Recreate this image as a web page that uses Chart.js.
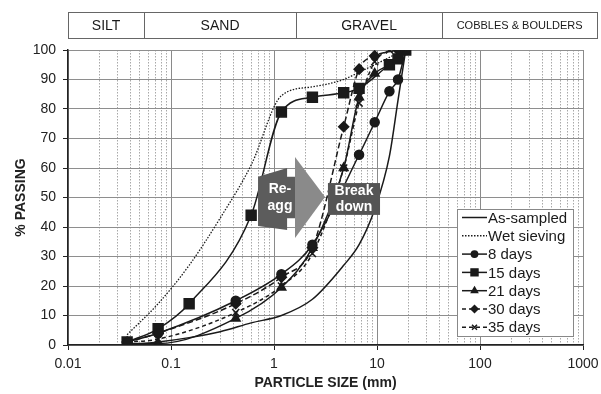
<!DOCTYPE html>
<html>
<head>
<meta charset="utf-8">
<script src="https://cdn.jsdelivr.net/npm/chart.js@4.4.0/dist/chart.umd.min.js"></script>
<style>
  html, body { margin: 0; padding: 0; background: #fff; }
  #wrap { width: 601px; height: 394px; position: relative; }
</style>
</head>
<body>
<div id="wrap"><canvas id="chart"></canvas></div>
<script>
// grading curves, particle size (mm) vs % passing
const asSampled = [[0.0375, 0], [0.075, 1], [0.15, 2.5], [0.3, 4.5], [0.6, 7.5], [1.18, 10], [2.36, 15.5], [4.75, 27], [6.7, 34], [9.5, 46], [13.2, 64], [16, 83], [19, 100]];
const wetSieving = [[0.0375, 3.5], [0.075, 14], [0.15, 27], [0.3, 43], [0.6, 61], [1.18, 84.5], [2.36, 87.5], [4.75, 90], [6.7, 92.5], [9.5, 95], [13.2, 97.5], [16, 99], [19, 100]];
const days8 = [[0.0375, 1], [0.075, 4], [0.425, 15], [1.18, 24], [2.36, 34], [6.7, 64.5], [9.5, 75.5], [13.2, 86], [16, 90], [19, 100]];
const days15 = [[0.0375, 1], [0.075, 5.5], [0.15, 14], [0.6, 44], [1.18, 79], [2.36, 84], [4.75, 85.5], [6.7, 87], [13.2, 95], [16, 97], [19, 100]];
const days21 = [[0.0375, 0.5], [0.075, 0.5], [0.425, 9], [1.18, 19.5], [2.36, 33], [4.75, 60], [6.7, 84], [9.5, 92], [16, 96.5], [19, 100]];
const days30 = [[0.0375, 1], [0.075, 4], [0.425, 14], [1.18, 23], [2.36, 33], [4.75, 74], [6.7, 93.5], [9.5, 98], [16, 100]];
const days35 = [[0.0375, 1], [0.075, 2], [0.425, 11], [1.18, 20], [2.36, 31], [4.75, 60], [6.7, 82], [9.5, 96], [13.2, 100]];

const seriesNames = ['As-sampled', 'Wet sieving', '8 days', '15 days', '21 days', '30 days', '35 days'];
const xTickDecades = [0.01, 0.1, 1, 10, 100, 1000];

// soil class band above the plot (edges in mm, last one runs past the axis)
const bandLabels = ['SILT', 'SAND', 'GRAVEL', 'COBBLES & BOULDERS'];
const bandEdges = [0.01, 0.055, 1.63, 43, 1370];

// annotation arrows, in mm / % passing
const reaggArrow = [[0.7, 57], [1.34, 60], [1.34, 57], [1.8, 57], [1.8, 43], [1.34, 43], [1.34, 39], [0.7, 40.3]];
const breakArrow = [[1.6, 63.7], [3.13, 50.2], [1.6, 36.3]];
const breakBox = [[3.34, 54.9], [10.7, 44.1]];

const FONT = "'Liberation Sans', Arial, sans-serif";
const INK = '#1a1a1a';

function pts(arr) { return arr.map(p => ({ x: p[0], y: p[1] })); }

function series(label, arr, style) {
  return Object.assign({
    label, data: pts(arr),
    borderColor: INK, backgroundColor: INK,
    borderWidth: 1.5, pointRadius: 0, pointHoverRadius: 0,
    tension: 0.4, cubicInterpolationMode: 'monotone', fill: false
  }, style);
}

const datasets = [
  series(seriesNames[0], asSampled, {}),
  series(seriesNames[1], wetSieving, { borderDash: [1.5, 1.5], borderWidth: 1.3 }),
  series(seriesNames[2], days8, { pointStyle: 'circle', pointRadius: 4.5 }),
  series(seriesNames[3], days15, { pointStyle: 'rect', pointRadius: 7 }),
  series(seriesNames[4], days21, { pointStyle: 'triangle', pointRadius: 5 }),
  series(seriesNames[5], days30, { pointStyle: 'rectRot', pointRadius: 5, borderDash: [6, 3] }),
  series(seriesNames[6], days35, { pointStyle: 'crossRot', pointRadius: 5, borderDash: [4, 3] })
];

const isDecade = v => xTickDecades.some(d => Math.abs(d - v) / d < 1e-6);

// top band, arrows and the boxed legend
const extras = {
  id: 'extras',
  afterDatasetsDraw(chart) {
    const { ctx, scales: { x, y } } = chart;
    const poly = (list, color) => {
      ctx.beginPath();
      list.forEach((p, i) => {
        const px = x.getPixelForValue(p[0]), py = y.getPixelForValue(p[1]);
        if (i) ctx.lineTo(px, py); else ctx.moveTo(px, py);
      });
      ctx.closePath();
      ctx.fillStyle = color;
      ctx.fill();
    };
    ctx.save();
    poly(reaggArrow, '#5c5c5c');
    poly(breakArrow, '#8a8a8a');
    const bx1 = x.getPixelForValue(breakBox[0][0]), bx2 = x.getPixelForValue(breakBox[1][0]);
    const by1 = y.getPixelForValue(breakBox[0][1]), by2 = y.getPixelForValue(breakBox[1][1]);
    ctx.fillStyle = '#555';
    ctx.fillRect(bx1, by1, bx2 - bx1, by2 - by1);

    ctx.fillStyle = '#fff';
    ctx.font = 'bold 14px ' + FONT;
    ctx.textAlign = 'center';
    ctx.textBaseline = 'middle';
    const rx = x.getPixelForValue(1.0);
    ctx.fillText('Re-', rx + 6, y.getPixelForValue(53));
    ctx.fillText('agg', rx + 6, y.getPixelForValue(47));
    const bxc = (bx1 + bx2) / 2;
    ctx.fillText('Break', bxc, by1 + 8);
    ctx.fillText('down', bxc, by2 - 8);
    ctx.restore();
  },
  afterDraw(chart) {
    const { ctx, chartArea: area, scales: { x } } = chart;
    ctx.save();
    // soil class band
    const top = 12, h = 26;
    ctx.strokeStyle = '#666';
    ctx.lineWidth = 1;
    ctx.textBaseline = 'middle';
    ctx.textAlign = 'center';
    ctx.fillStyle = INK;
    for (let i = 0; i < bandLabels.length; i++) {
      const l = x.getPixelForValue(bandEdges[i]);
      const r = Math.min(x.getPixelForValue(bandEdges[i + 1]), chart.width - 4);
      ctx.strokeRect(Math.round(l) + 0.5, top + 0.5, Math.round(r - l), h);
      ctx.font = (i === 3 ? '11px ' : '14px ') + FONT;
      ctx.fillText(bandLabels[i], (l + r) / 2, top + h / 2 + 1);
    }

    // legend
    const lw = 116, lh = 127;
    const lx = area.right - 10 - lw, ly = area.bottom - 9 - lh;
    ctx.fillStyle = '#fff';
    ctx.fillRect(lx, ly, lw, lh);
    ctx.strokeStyle = '#888';
    ctx.strokeRect(lx + 0.5, ly + 0.5, lw, lh);
    ctx.font = '15px ' + FONT;
    ctx.textAlign = 'left';
    chart.data.datasets.forEach((ds, i) => {
      const cy = ly + 8.5 + i * 18.3;
      ctx.strokeStyle = INK;
      ctx.lineWidth = 1.5;
      ctx.setLineDash(ds.borderDash ? (i === 1 ? [1.5, 1.5] : [4, 3]) : []);
      ctx.beginPath();
      ctx.moveTo(lx + 5, cy);
      ctx.lineTo(lx + 30, cy);
      ctx.stroke();
      ctx.setLineDash([]);
      if (ds.pointRadius) {
        Chart.helpers.drawPoint(ctx, {
          pointStyle: ds.pointStyle, radius: ds.pointRadius * 0.7,
          borderWidth: 1.5, rotation: 0
        }, lx + 17.5, cy);
        ctx.fillStyle = INK;
        if (ds.pointStyle !== 'crossRot') ctx.fill();
      }
      ctx.fillStyle = INK;
      ctx.fillText(ds.label, lx + 31, cy + 1);
    });
    ctx.restore();
  }
};

new Chart(document.getElementById('chart'), {
  type: 'line',
  data: { datasets },
  options: {
    responsive: true,
    maintainAspectRatio: false,
    animation: false,
    layout: { padding: { top: 50, right: 18, left: 0, bottom: 0 } },
    plugins: { legend: { display: false }, tooltip: { enabled: false } },
    scales: {
      x: {
        type: 'logarithmic',
        min: 0.01, max: 1000,
        afterBuildTicks(scale) {
          const ticks = [];
          for (let e = -2; e <= 3; e++) {
            for (let m = 1; m <= 9; m++) {
              const v = Number((m * Math.pow(10, e)).toPrecision(6));
              if (v <= 1000) ticks.push({ value: v });
            }
          }
          scale.ticks = ticks;
        },
        afterFit(scale) {
          scale.height = 49;
          scale.paddingLeft = 0;
          scale.paddingRight = 0;
        },
        ticks: {
          autoSkip: false, maxRotation: 0, padding: 6,
          color: '#222', font: { family: FONT, size: 14 },
          callback: v => isDecade(v) ? String(v) : ''
        },
        grid: {
          color: c => (c.tick && isDecade(c.tick.value)) ? '#8a8a8a' : '#a8a8a8',
          lineWidth: 1,
          tickLength: 5,
          tickColor: c => (c.tick && isDecade(c.tick.value)) ? '#222' : 'rgba(0,0,0,0)'
        },
        border: {
          color: '#222', width: 1.5,
          dash: c => (c.tick && !isDecade(c.tick.value)) ? [1.5, 1.5] : []
        },
        title: {
          display: true, text: 'PARTICLE SIZE (mm)', color: '#222',
          font: { family: FONT, size: 14, weight: 'bold' },
          padding: { top: 0, bottom: 2 }
        }
      },
      y: {
        min: 0, max: 100,
        afterFit(scale) { scale.width = 68; },
        ticks: {
          stepSize: 10, padding: 7,
          color: '#222', font: { family: FONT, size: 14 }
        },
        grid: { color: '#8e8e8e', lineWidth: 1, tickLength: 5, tickColor: '#222' },
        border: { color: '#222', width: 1.5 },
        title: {
          display: true, text: '% PASSING', color: '#222',
          font: { family: FONT, size: 14, weight: 'bold' },
          padding: { top: 13, bottom: 0 }
        }
      }
    }
  },
  plugins: [extras]
});
</script>
</body>
</html>
